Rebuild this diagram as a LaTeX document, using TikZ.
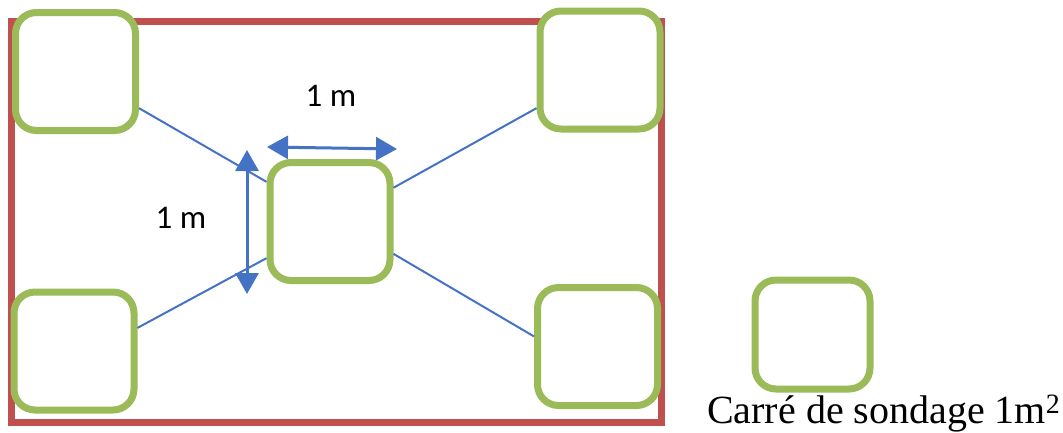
\documentclass[tikz,border=0pt]{standalone}
\usepackage{fontspec}
\setmainfont{Liberation Serif}
\newfontfamily\labelfont{Carlito}
\usetikzlibrary{arrows.meta}
\definecolor{plotred}{RGB}{192,80,77}
\definecolor{squaregreen}{RGB}{155,187,89}
\definecolor{linkblue}{RGB}{68,114,196}
\tikzset{
  square/.style={draw=squaregreen, line width=7pt, fill=white, rounded corners=21pt,
    minimum width=120pt, minimum height=118pt, inner sep=0pt},
  link/.style={draw=linkblue, line width=2pt},
  dimarrow/.style={draw=linkblue, line width=3pt,
    {Triangle[length=21pt,width=23pt]}-{Triangle[length=21pt,width=23pt]}},
  dimlabel/.style={font=\labelfont\fontsize{33}{38}\selectfont, inner sep=0pt}
}
\begin{document}
\begin{tikzpicture}[x=1pt,y=-1pt]
\useasboundingbox (0,0) rectangle (1063,432);
% plot boundary
\draw[plotred, line width=7pt] (11,21) rectangle (661,422);
% sampling squares
\node[square] (tl) at (75.5,71.5) {};
\node[square] (tr) at (600,70) {};
\node[square] (bl) at (74,351) {};
\node[square] (br) at (597.5,346.5) {};
\node[square] (c)  at (330,221.5) {};
% links from the centre square to the corner squares
\draw[link] (tl.-30) -- (c.148);
\draw[link] (tr.211) -- (c.28);
\draw[link] (bl.20) -- (c.210);
\draw[link] (br.171) -- (c.333);
% 1 m dimensions
\coordinate (hl) at (267,147);
\coordinate (hr) at (397,149);
\coordinate (vt) at (247,150);
\coordinate (vb) at (247,294);
\draw[dimarrow] (hl) -- (hr);
\draw[dimarrow] (vt) -- (vb);
\node[dimlabel] (htext) at (331,96) {1 m};
\node[dimlabel] (vtext) at (181,218) {1 m};
% legend
\node[square, minimum width=115pt, minimum height=109pt] (key) at (812.5,334.5) {};
\node[anchor=base west, inner sep=0pt, font=\fontsize{40}{48}\selectfont] (keytext) at (707,423) {Carré de sondage 1m\textsuperscript{2}};
\end{tikzpicture}
\end{document}
